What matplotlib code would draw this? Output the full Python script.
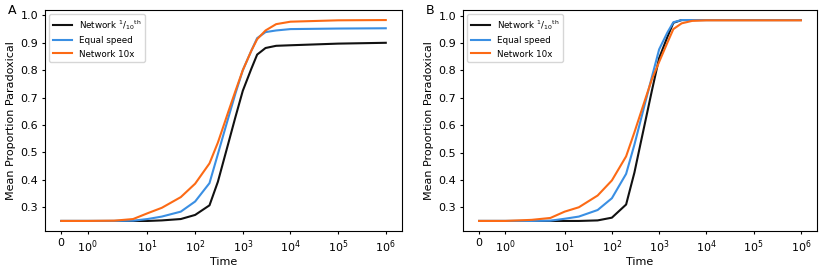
import matplotlib
matplotlib.use("Agg")
import matplotlib.pyplot as plt
from matplotlib.ticker import NullLocator, FixedLocator, FixedFormatter

time = [0, 1, 2, 5, 10, 20, 50, 100, 200, 300, 400, 500, 700, 1000, 1500,
        2000, 3000, 5000, 10000, 100000, 1000000]

a_slow = [0.25, 0.25, 0.25, 0.25, 0.25, 0.252, 0.257, 0.272, 0.307, 0.393, 0.473,
          0.535, 0.629, 0.725, 0.804, 0.857, 0.881, 0.889, 0.891, 0.897, 0.900]
a_equal = [0.25, 0.25, 0.25, 0.251, 0.257, 0.266, 0.284, 0.321, 0.388, 0.494, 0.57,
           0.628, 0.715, 0.80, 0.87, 0.917, 0.939, 0.945, 0.950, 0.952, 0.953]
a_fast = [0.25, 0.25, 0.251, 0.257, 0.278, 0.298, 0.337, 0.386, 0.46, 0.536, 0.60,
          0.65, 0.724, 0.80, 0.87, 0.913, 0.945, 0.968, 0.977, 0.982, 0.983]

b_slow = [0.25, 0.25, 0.25, 0.25, 0.25, 0.25, 0.252, 0.262, 0.31, 0.427, 0.529,
          0.607, 0.725, 0.845, 0.923, 0.974, 0.984, 0.984, 0.984, 0.984, 0.984]
b_equal = [0.25, 0.25, 0.25, 0.251, 0.258, 0.266, 0.29, 0.333, 0.422, 0.529, 0.613,
           0.678, 0.775, 0.877, 0.939, 0.976, 0.984, 0.984, 0.984, 0.984, 0.984]
b_fast = [0.25, 0.25, 0.254, 0.261, 0.284, 0.30, 0.343, 0.398, 0.486, 0.574, 0.64,
          0.691, 0.767, 0.831, 0.902, 0.951, 0.972, 0.981, 0.983, 0.983, 0.983]

labels = [r'Network $^{1}/_{10}$$^{\mathrm{th}}$', 'Equal speed', 'Network 10x']
colors = ['#111111', '#3a8fe3', '#fc6a15']
xtick_vals = [0, 1, 10, 100, 1000, 10000, 100000, 1000000]
xtick_labels = ['0', r'$10^0$', r'$10^1$', r'$10^2$', r'$10^3$', r'$10^4$', r'$10^5$', r'$10^6$']

fig = plt.figure(figsize=(8.31, 2.75), dpi=100)
ax1 = fig.add_axes([45/831, 1-231/275, 357/831, 221/275])
ax2 = fig.add_axes([463/831, 1-231/275, 354/831, 221/275])

for ax, series, letter in [(ax1, [a_slow, a_equal, a_fast], 'A'),
                           (ax2, [b_slow, b_equal, b_fast], 'B')]:
    for ys, lab, c in zip(series, labels, colors):
        ax.plot(time, ys, color=c, lw=1.5, label=lab)
    ax.set_xscale('symlog', linthresh=2, linscale=1)
    ax.xaxis.set_major_locator(FixedLocator(xtick_vals))
    ax.xaxis.set_major_formatter(FixedFormatter(xtick_labels))
    ax.xaxis.set_minor_locator(NullLocator())
    ax.set_yticks([0.3, 0.4, 0.5, 0.6, 0.7, 0.8, 0.9, 1.0])
    ax.tick_params(labelsize=8, length=2.5, pad=2.5)
    ax.set_xlabel('Time', fontsize=8, labelpad=2)
    ax.set_ylabel('Mean Proportion Paradoxical', fontsize=8, labelpad=3)
    ax.legend(loc='upper left', fontsize=6.3, handlelength=2.2)
    fig.text(ax.get_position().x0 - 37/831, 1 - 14/275, letter, fontsize=9)

fig.savefig('out.png', dpi=100)
